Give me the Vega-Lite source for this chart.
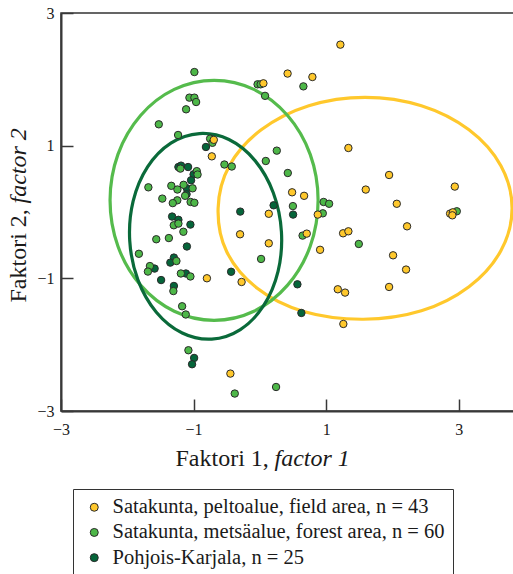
{
  "$schema": "https://vega.github.io/schema/vega-lite/v6.json",
  "width": 453,
  "height": 398,
  "autosize": {"type": "none"},
  "padding": {"left": 61, "top": 13, "right": 0, "bottom": 163},
  "config": {
    "font": "Liberation Serif",
    "view": {"stroke": "#333333", "strokeWidth": 1.5},
    "axis": {"grid": false}
  },
  "datasets": {
    "ell": [
      {"g": "field", "i": 0, "x": 3.804, "y": 0.056},
      {"g": "field", "i": 1, "x": 3.635, "y": 0.697},
      {"g": "field", "i": 2, "x": 3.154, "y": 1.239},
      {"g": "field", "i": 3, "x": 2.436, "y": 1.602},
      {"g": "field", "i": 4, "x": 1.587, "y": 1.729},
      {"g": "field", "i": 5, "x": 0.738, "y": 1.602},
      {"g": "field", "i": 6, "x": 0.020, "y": 1.239},
      {"g": "field", "i": 7, "x": -0.461, "y": 0.697},
      {"g": "field", "i": 8, "x": -0.630, "y": 0.056},
      {"g": "field", "i": 9, "x": -0.500, "y": -0.600},
      {"g": "field", "i": 10, "x": -0.040, "y": -1.150},
      {"g": "field", "i": 11, "x": 0.660, "y": -1.500},
      {"g": "field", "i": 12, "x": 1.560, "y": -1.617},
      {"g": "field", "i": 13, "x": 2.436, "y": -1.490},
      {"g": "field", "i": 14, "x": 3.154, "y": -1.127},
      {"g": "field", "i": 15, "x": 3.635, "y": -0.585},
      {"g": "forest", "i": 0, "x": 0.878, "y": 0.176},
      {"g": "forest", "i": 1, "x": 0.759, "y": 0.869},
      {"g": "forest", "i": 2, "x": 0.418, "y": 1.455},
      {"g": "forest", "i": 3, "x": -0.090, "y": 1.848},
      {"g": "forest", "i": 4, "x": -0.691, "y": 1.985},
      {"g": "forest", "i": 5, "x": -1.292, "y": 1.848},
      {"g": "forest", "i": 6, "x": -1.800, "y": 1.455},
      {"g": "forest", "i": 7, "x": -2.141, "y": 0.869},
      {"g": "forest", "i": 8, "x": -2.260, "y": 0.176},
      {"g": "forest", "i": 9, "x": -2.141, "y": -0.517},
      {"g": "forest", "i": 10, "x": -1.800, "y": -1.103},
      {"g": "forest", "i": 11, "x": -1.292, "y": -1.496},
      {"g": "forest", "i": 12, "x": -0.691, "y": -1.633},
      {"g": "forest", "i": 13, "x": -0.090, "y": -1.496},
      {"g": "forest", "i": 14, "x": 0.418, "y": -1.103},
      {"g": "forest", "i": 15, "x": 0.759, "y": -0.517},
      {"g": "karjala", "i": 0, "x": 0.325, "y": -0.298},
      {"g": "karjala", "i": 1, "x": 0.274, "y": -0.896},
      {"g": "karjala", "i": 2, "x": 0.056, "y": -1.413},
      {"g": "karjala", "i": 3, "x": -0.295, "y": -1.772},
      {"g": "karjala", "i": 4, "x": -0.726, "y": -1.916},
      {"g": "karjala", "i": 5, "x": -1.171, "y": -1.824},
      {"g": "karjala", "i": 6, "x": -1.562, "y": -1.510},
      {"g": "karjala", "i": 7, "x": -1.840, "y": -1.023},
      {"g": "karjala", "i": 8, "x": -1.963, "y": -0.435},
      {"g": "karjala", "i": 9, "x": -1.912, "y": 0.164},
      {"g": "karjala", "i": 10, "x": -1.694, "y": 0.681},
      {"g": "karjala", "i": 11, "x": -1.343, "y": 1.039},
      {"g": "karjala", "i": 12, "x": -0.912, "y": 1.183},
      {"g": "karjala", "i": 13, "x": -0.467, "y": 1.092},
      {"g": "karjala", "i": 14, "x": -0.076, "y": 0.778},
      {"g": "karjala", "i": 15, "x": 0.202, "y": 0.291}
    ],
    "pts": [
      {"g": "Pohjois-Karjala, n = 25", "x": -0.814, "y": 0.980},
      {"g": "Pohjois-Karjala, n = 25", "x": -1.229, "y": 0.678},
      {"g": "Pohjois-Karjala, n = 25", "x": -1.189, "y": 0.699},
      {"g": "Pohjois-Karjala, n = 25", "x": -1.083, "y": 0.678},
      {"g": "Pohjois-Karjala, n = 25", "x": -1.000, "y": 0.568},
      {"g": "Pohjois-Karjala, n = 25", "x": -1.038, "y": 0.478},
      {"g": "Pohjois-Karjala, n = 25", "x": -1.101, "y": 0.357},
      {"g": "Pohjois-Karjala, n = 25", "x": -1.106, "y": 0.267},
      {"g": "Pohjois-Karjala, n = 25", "x": -1.324, "y": -0.069},
      {"g": "Pohjois-Karjala, n = 25", "x": -1.229, "y": -0.118},
      {"g": "Pohjois-Karjala, n = 25", "x": -1.048, "y": -0.190},
      {"g": "Pohjois-Karjala, n = 25", "x": -1.101, "y": -0.520},
      {"g": "Pohjois-Karjala, n = 25", "x": -1.297, "y": -0.687},
      {"g": "Pohjois-Karjala, n = 25", "x": -1.351, "y": -0.763},
      {"g": "Pohjois-Karjala, n = 25", "x": -1.588, "y": -0.853},
      {"g": "Pohjois-Karjala, n = 25", "x": -1.490, "y": -1.026},
      {"g": "Pohjois-Karjala, n = 25", "x": -1.116, "y": -0.927},
      {"g": "Pohjois-Karjala, n = 25", "x": -1.297, "y": -1.115},
      {"g": "Pohjois-Karjala, n = 25", "x": -0.992, "y": -2.200},
      {"g": "Pohjois-Karjala, n = 25", "x": -1.023, "y": -2.295},
      {"g": "Pohjois-Karjala, n = 25", "x": -0.296, "y": 0.006},
      {"g": "Pohjois-Karjala, n = 25", "x": 0.207, "y": 0.101},
      {"g": "Pohjois-Karjala, n = 25", "x": 0.501, "y": -0.039},
      {"g": "Pohjois-Karjala, n = 25", "x": -0.434, "y": -0.901},
      {"g": "Pohjois-Karjala, n = 25", "x": 0.566, "y": -1.090},
      {"g": "Pohjois-Karjala, n = 25", "x": 0.626, "y": -1.522},
      {"g": "Satakunta, metsäalue, forest area, n = 60", "x": -0.988, "y": 2.110},
      {"g": "Satakunta, metsäalue, forest area, n = 60", "x": -0.035, "y": 1.925},
      {"g": "Satakunta, metsäalue, forest area, n = 60", "x": 0.011, "y": 1.925},
      {"g": "Satakunta, metsäalue, forest area, n = 60", "x": 0.656, "y": 1.894},
      {"g": "Satakunta, metsäalue, forest area, n = 60", "x": 0.078, "y": 1.751},
      {"g": "Satakunta, metsäalue, forest area, n = 60", "x": -1.063, "y": 1.724},
      {"g": "Satakunta, metsäalue, forest area, n = 60", "x": -0.988, "y": 1.724},
      {"g": "Satakunta, metsäalue, forest area, n = 60", "x": -0.962, "y": 1.658},
      {"g": "Satakunta, metsäalue, forest area, n = 60", "x": -1.113, "y": 1.548},
      {"g": "Satakunta, metsäalue, forest area, n = 60", "x": -1.525, "y": 1.322},
      {"g": "Satakunta, metsäalue, forest area, n = 60", "x": -1.234, "y": 1.161},
      {"g": "Satakunta, metsäalue, forest area, n = 60", "x": -0.751, "y": 1.106},
      {"g": "Satakunta, metsäalue, forest area, n = 60", "x": -0.716, "y": 1.043},
      {"g": "Satakunta, metsäalue, forest area, n = 60", "x": -0.535, "y": 0.716},
      {"g": "Satakunta, metsäalue, forest area, n = 60", "x": -0.424, "y": 0.686},
      {"g": "Satakunta, metsäalue, forest area, n = 60", "x": 0.255, "y": 0.925},
      {"g": "Satakunta, metsäalue, forest area, n = 60", "x": 0.089, "y": 0.769},
      {"g": "Satakunta, metsäalue, forest area, n = 60", "x": 0.421, "y": 0.588},
      {"g": "Satakunta, metsäalue, forest area, n = 60", "x": 0.961, "y": 0.151},
      {"g": "Satakunta, metsäalue, forest area, n = 60", "x": 1.044, "y": 0.124},
      {"g": "Satakunta, metsäalue, forest area, n = 60", "x": 0.498, "y": 0.089},
      {"g": "Satakunta, metsäalue, forest area, n = 60", "x": 0.949, "y": -0.020},
      {"g": "Satakunta, metsäalue, forest area, n = 60", "x": 0.644, "y": -0.356},
      {"g": "Satakunta, metsäalue, forest area, n = 60", "x": 1.492, "y": -0.482},
      {"g": "Satakunta, metsäalue, forest area, n = 60", "x": 2.970, "y": 0.011},
      {"g": "Satakunta, metsäalue, forest area, n = 60", "x": 0.018, "y": -0.708},
      {"g": "Satakunta, metsäalue, forest area, n = 60", "x": -0.379, "y": -2.737},
      {"g": "Satakunta, metsäalue, forest area, n = 60", "x": 0.244, "y": -2.638},
      {"g": "Satakunta, metsäalue, forest area, n = 60", "x": -1.078, "y": -2.084},
      {"g": "Satakunta, metsäalue, forest area, n = 60", "x": -1.173, "y": -1.421},
      {"g": "Satakunta, metsäalue, forest area, n = 60", "x": -1.118, "y": -1.545},
      {"g": "Satakunta, metsäalue, forest area, n = 60", "x": -1.199, "y": 0.654},
      {"g": "Satakunta, metsäalue, forest area, n = 60", "x": -0.952, "y": 0.616},
      {"g": "Satakunta, metsäalue, forest area, n = 60", "x": -0.940, "y": 0.565},
      {"g": "Satakunta, metsäalue, forest area, n = 60", "x": -1.682, "y": 0.372},
      {"g": "Satakunta, metsäalue, forest area, n = 60", "x": -1.336, "y": 0.395},
      {"g": "Satakunta, metsäalue, forest area, n = 60", "x": -1.244, "y": 0.339},
      {"g": "Satakunta, metsäalue, forest area, n = 60", "x": -1.151, "y": 0.410},
      {"g": "Satakunta, metsäalue, forest area, n = 60", "x": -1.015, "y": 0.357},
      {"g": "Satakunta, metsäalue, forest area, n = 60", "x": -1.128, "y": 0.244},
      {"g": "Satakunta, metsäalue, forest area, n = 60", "x": -1.472, "y": 0.202},
      {"g": "Satakunta, metsäalue, forest area, n = 60", "x": -1.246, "y": 0.176},
      {"g": "Satakunta, metsäalue, forest area, n = 60", "x": -1.314, "y": 0.134},
      {"g": "Satakunta, metsäalue, forest area, n = 60", "x": -1.045, "y": 0.151},
      {"g": "Satakunta, metsäalue, forest area, n = 60", "x": -0.988, "y": 0.139},
      {"g": "Satakunta, metsäalue, forest area, n = 60", "x": -1.299, "y": -0.200},
      {"g": "Satakunta, metsäalue, forest area, n = 60", "x": -1.229, "y": -0.175},
      {"g": "Satakunta, metsäalue, forest area, n = 60", "x": -1.154, "y": -0.298},
      {"g": "Satakunta, metsäalue, forest area, n = 60", "x": -1.563, "y": -0.411},
      {"g": "Satakunta, metsäalue, forest area, n = 60", "x": -1.373, "y": -0.393},
      {"g": "Satakunta, metsäalue, forest area, n = 60", "x": -1.825, "y": -0.630},
      {"g": "Satakunta, metsäalue, forest area, n = 60", "x": -1.259, "y": -0.739},
      {"g": "Satakunta, metsäalue, forest area, n = 60", "x": -1.659, "y": -0.815},
      {"g": "Satakunta, metsäalue, forest area, n = 60", "x": -1.689, "y": -0.898},
      {"g": "Satakunta, metsäalue, forest area, n = 60", "x": -1.192, "y": -0.927},
      {"g": "Satakunta, metsäalue, forest area, n = 60", "x": -1.048, "y": -0.972},
      {"g": "Satakunta, metsäalue, forest area, n = 60", "x": -1.305, "y": -1.192},
      {"g": "Satakunta, peltoalue, field area, n = 43", "x": 1.214, "y": 2.523},
      {"g": "Satakunta, peltoalue, field area, n = 43", "x": 0.418, "y": 2.087},
      {"g": "Satakunta, peltoalue, field area, n = 43", "x": 0.792, "y": 2.035},
      {"g": "Satakunta, peltoalue, field area, n = 43", "x": 0.053, "y": 1.940},
      {"g": "Satakunta, peltoalue, field area, n = 43", "x": -0.695, "y": 1.088},
      {"g": "Satakunta, peltoalue, field area, n = 43", "x": -0.725, "y": 0.839},
      {"g": "Satakunta, peltoalue, field area, n = 43", "x": 1.335, "y": 0.965},
      {"g": "Satakunta, peltoalue, field area, n = 43", "x": 1.949, "y": 0.558},
      {"g": "Satakunta, peltoalue, field area, n = 43", "x": 1.597, "y": 0.338},
      {"g": "Satakunta, peltoalue, field area, n = 43", "x": 2.940, "y": 0.383},
      {"g": "Satakunta, peltoalue, field area, n = 43", "x": 2.065, "y": 0.124},
      {"g": "Satakunta, peltoalue, field area, n = 43", "x": 0.486, "y": 0.297},
      {"g": "Satakunta, peltoalue, field area, n = 43", "x": 0.667, "y": 0.244},
      {"g": "Satakunta, peltoalue, field area, n = 43", "x": 0.873, "y": -0.039},
      {"g": "Satakunta, peltoalue, field area, n = 43", "x": 0.134, "y": -0.027},
      {"g": "Satakunta, peltoalue, field area, n = 43", "x": -0.299, "y": -0.336},
      {"g": "Satakunta, peltoalue, field area, n = 43", "x": 0.134, "y": -0.472},
      {"g": "Satakunta, peltoalue, field area, n = 43", "x": 0.707, "y": -0.326},
      {"g": "Satakunta, peltoalue, field area, n = 43", "x": 0.908, "y": -0.570},
      {"g": "Satakunta, peltoalue, field area, n = 43", "x": 1.255, "y": -0.321},
      {"g": "Satakunta, peltoalue, field area, n = 43", "x": 1.335, "y": -0.291},
      {"g": "Satakunta, peltoalue, field area, n = 43", "x": 2.220, "y": -0.216},
      {"g": "Satakunta, peltoalue, field area, n = 43", "x": 2.009, "y": -0.653},
      {"g": "Satakunta, peltoalue, field area, n = 43", "x": 2.205, "y": -0.868},
      {"g": "Satakunta, peltoalue, field area, n = 43", "x": 1.949, "y": -1.130},
      {"g": "Satakunta, peltoalue, field area, n = 43", "x": 1.175, "y": -1.165},
      {"g": "Satakunta, peltoalue, field area, n = 43", "x": 1.285, "y": -1.215},
      {"g": "Satakunta, peltoalue, field area, n = 43", "x": 1.259, "y": -1.688},
      {"g": "Satakunta, peltoalue, field area, n = 43", "x": 2.869, "y": -0.024},
      {"g": "Satakunta, peltoalue, field area, n = 43", "x": 2.910, "y": -0.005},
      {"g": "Satakunta, peltoalue, field area, n = 43", "x": 2.903, "y": -0.050},
      {"g": "Satakunta, peltoalue, field area, n = 43", "x": -0.799, "y": -0.999},
      {"g": "Satakunta, peltoalue, field area, n = 43", "x": -0.276, "y": -1.055},
      {"g": "Satakunta, peltoalue, field area, n = 43", "x": -0.445, "y": -2.436}
    ]
  },
  "layer": [
    {
      "data": {"name": "ell"},
      "mark": {"type": "line", "interpolate": "cardinal-closed", "strokeWidth": 3.2, "clip": true},
      "encoding": {
        "x": {
          "field": "x", "type": "quantitative",
          "scale": {"domain": [-3, 3.833], "nice": false, "zero": false},
          "axis": {
            "orient": "bottom", "values": [-3, -1, 1, 3], "ticks": false,
            "domain": true, "domainColor": "#383838", "domainWidth": 2,
            "labelFontSize": 16, "labelColor": "#1a1a1a", "labelBaseline": "alphabetic", "labelPadding": 23,
            "labelFlush": false,
            "title": "Faktori 1,", "titleFontSize": 24, "titleFontWeight": "normal", "titleColor": "#1a1a1a",
            "titleX": 114, "titleY": 54, "titleAlign": "left", "titleBaseline": "alphabetic"
          }
        },
        "y": {
          "field": "y", "type": "quantitative",
          "scale": {"domain": [-3, 3], "nice": false, "zero": false},
          "axis": {
            "orient": "left", "values": [-3, -1, 1, 3], "ticks": false,
            "domain": true, "domainColor": "#383838", "domainWidth": 2,
            "labelFontSize": 16, "labelColor": "#1a1a1a", "labelPadding": 7, "labelFlush": false,
            "title": "Faktori 2,", "titleFontSize": 24, "titleFontWeight": "normal", "titleColor": "#1a1a1a",
            "titleAngle": 270, "titleX": -36, "titleY": 289, "titleAlign": "left", "titleBaseline": "alphabetic"
          }
        },
        "stroke": {
          "field": "g", "type": "nominal",
          "scale": {"domain": ["field", "forest", "karjala"], "range": ["#FFC82C", "#55BB4C", "#0A6A3A"]},
          "legend": null
        },
        "order": {"field": "i", "type": "quantitative"}
      }
    },
    {
      "data": {"name": "pts"},
      "mark": {"type": "point", "shape": "circle", "filled": true, "size": 55, "opacity": 1, "stroke": "#2a2a2a", "strokeWidth": 1},
      "encoding": {
        "x": {
          "field": "x", "type": "quantitative",
          "axis": {
            "orient": "bottom", "values": [-3, -1, 1, 3], "labels": false, "domain": false,
            "ticks": true, "tickSize": -12, "tickColor": "#383838", "tickWidth": 1.5,
            "title": "factor 1", "titleFontSize": 24, "titleFontWeight": "normal", "titleFontStyle": "italic", "titleColor": "#1a1a1a",
            "titleX": 213, "titleY": 54, "titleAlign": "left", "titleBaseline": "alphabetic"
          }
        },
        "y": {
          "field": "y", "type": "quantitative",
          "axis": {
            "orient": "left", "values": [-3, -1, 1, 3], "labels": false, "domain": false,
            "ticks": true, "tickSize": -12, "tickColor": "#383838", "tickWidth": 1.5,
            "title": "factor 2", "titleFontSize": 24, "titleFontWeight": "normal", "titleFontStyle": "italic", "titleColor": "#1a1a1a",
            "titleAngle": 270, "titleX": -36, "titleY": 190, "titleAlign": "left", "titleBaseline": "alphabetic"
          }
        },
        "fill": {
          "field": "g", "type": "nominal",
          "scale": {
            "domain": ["Satakunta, peltoalue, field area, n = 43", "Satakunta, metsäalue, forest area, n = 60", "Pohjois-Karjala, n = 25"],
            "range": ["#FFC82C", "#4DB748", "#05653A"]
          },
          "legend": {
            "orient": "none", "legendX": 12, "legendY": 476, "title": null,
            "direction": "vertical",
            "padding": 8, "strokeColor": "#333333", "fillColor": "#ffffff",
            "symbolType": "circle", "symbolSize": 64, "symbolStrokeColor": "#2a2a2a", "symbolStrokeWidth": 1,
            "symbolOffset": 3,
            "labelFontSize": 20.5, "labelColor": "#1a1a1a", "labelLimit": 600, "labelOffset": 8,
            "rowPadding": 4.2
          }
        }
      }
    }
  ],
  "resolve": {"axis": {"x": "independent", "y": "independent"}}
}
